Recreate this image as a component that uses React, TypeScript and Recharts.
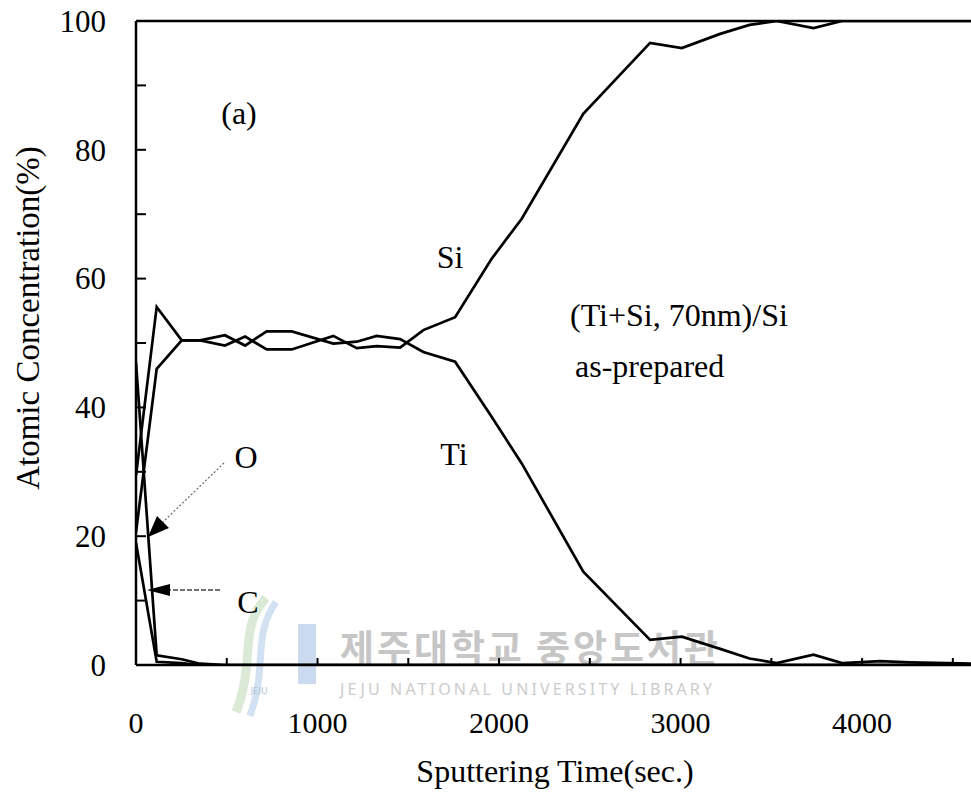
import { LineChart, Line, XAxis, YAxis, ReferenceLine } from "recharts";

// sputtering time (sec.)
const TIMES = [0, 114, 252, 353, 490, 601, 720, 858, 1087, 1216, 1326, 1455, 1583, 1758, 1960, 2125, 2464, 2832, 3007, 3218, 3380, 3530, 3732, 3890, 4099, 4264, 4600];
// atomic concentration (%)
const SI = [29.4, 55.6, 50.4, 50.4, 49.6, 51.0, 49.0, 49.0, 51.1, 49.2, 49.5, 49.3, 52.0, 54.0, 63.1, 69.3, 85.6, 96.6, 95.8, 98.0, 99.4, 100, 98.9, 100, 100, 100, 100];
const TI = [20.6, 46.0, 50.4, 50.4, 51.2, 49.6, 51.8, 51.8, 49.9, 50.2, 51.1, 50.6, 48.6, 47.1, 38.5, 31.3, 14.5, 3.9, 4.4, 2.5, 1.0, 0.3, 1.6, 0.3, 0.6, 0.4, 0.2];
const O = [47, 1.5, 0.9, 0.2, 0, 0, 0, 0, 0, 0, 0, 0, 0, 0, 0, 0, 0, 0, 0, 0, 0, 0, 0, 0, 0, 0, 0];
const C = [19, 0.5, 0.3, 0, 0, 0, 0, 0, 0, 0, 0, 0, 0, 0, 0, 0, 0, 0, 0, 0, 0, 0, 0, 0, 0, 0, 0];

const X_TICKS = [0, 500, 1000, 1500, 2000, 2500, 3000, 3500, 4000, 4500];
const Y_TICKS = [0, 10, 20, 30, 40, 50, 60, 70, 80, 90, 100];

const SERIES = [
  { key: "Si", values: SI },
  { key: "Ti", values: TI },
  { key: "O", values: O },
  { key: "C", values: C },
];

const FONT = "'Liberation Serif', 'Times New Roman', serif";

// ticks point inward, like the original plot
function YTick(p: any) {
  const v = p.payload.value;
  return (
    <g>
      {v > 0 && v < 100 && <line x1={p.x} x2={p.x + 10} y1={p.y} y2={p.y} stroke="#000" strokeWidth={2} />}
      {v % 20 === 0 && (
        <text x={p.x - 30} y={p.y} dy="0.35em" textAnchor="end" fontSize={31} fontFamily={FONT} fill="#000">
          {v}
        </text>
      )}
    </g>
  );
}

function XTick(p: any) {
  const v = p.payload.value;
  return (
    <g>
      {v > 0 && <line x1={p.x} x2={p.x} y1={p.y} y2={p.y - 7} stroke="#000" strokeWidth={2} />}
      {v % 1000 === 0 && (
        <text x={p.x} y={p.y + 68} textAnchor="middle" fontSize={30} fontFamily={FONT} fill="#000">
          {v}
        </text>
      )}
    </g>
  );
}

export default function App() {
  const data = TIMES.map((t, i) => {
    const row: Record<string, number> = { t };
    SERIES.forEach((s) => (row[s.key] = s.values[i]));
    return row;
  });

  return (
    <div style={{ position: "absolute", left: 0, top: 0, width: 971, height: 796, background: "#fff" }}>
      <svg width={971} height={796} style={{ position: "absolute", left: 0, top: 0 }}>
        {/* library watermark (behind the plot) */}
        <g opacity={0.8}>
          <path d="M266,598 C238,628 256,662 236,712" stroke="#d3e6cc" strokeWidth={9} fill="none" />
          <path d="M276,602 C252,636 268,666 250,716" stroke="#c9dcf0" strokeWidth={7} fill="none" />
          <rect x={298} y={624} width={18} height={60} fill="#c0d2ec" />
          <text x={259} y={694} textAnchor="middle" fontSize={9} fill="#9fb0c8" fontFamily="'Noto Sans', sans-serif">JEJU</text>
        </g>
        <text x={340} y={662} fontSize={37} fontWeight={700} fill="#c6c6c6" fontFamily="'Noto Sans CJK KR', sans-serif" textLength={378}>
          제주대학교 중앙도서관
        </text>
        <text x={340} y={695} fontSize={16} fill="#cccccc" fontFamily="'Noto Sans', sans-serif" textLength={372} lengthAdjust="spacing">
          JEJU NATIONAL UNIVERSITY LIBRARY
        </text>
      </svg>

      <div style={{ position: "absolute", left: 0, top: 0 }}>
        <LineChart
          width={971}
          height={796}
          data={data}
          margin={{ top: 21, right: 0, bottom: 130, left: 135 }}
        >
          <XAxis
            dataKey="t"
            type="number"
            domain={[0, 4600]}
            ticks={X_TICKS}
            height={1}
            tickSize={0}
            tickMargin={0}
            tick={<XTick />}
            tickLine={false}
            axisLine={{ stroke: "#000", strokeWidth: 2.5 }}
            allowDataOverflow
          />
          <YAxis
            type="number"
            domain={[0, 100]}
            ticks={Y_TICKS}
            width={1}
            tickSize={0}
            tickMargin={0}
            tick={<YTick />}
            tickLine={false}
            axisLine={{ stroke: "#000", strokeWidth: 2.5 }}
            allowDataOverflow
          />
          <ReferenceLine y={100} stroke="#000" strokeWidth={2.5} />
          {SERIES.map((s) => (
            <Line
              key={s.key}
              dataKey={s.key}
              type="linear"
              stroke="#000"
              strokeWidth={2.7}
              dot={false}
              isAnimationActive={false}
            />
          ))}
        </LineChart>
      </div>

      <svg
        width={971}
        height={796}
        style={{ position: "absolute", left: 0, top: 0, pointerEvents: "none" }}
        fontFamily={FONT}
        fill="#000"
      >
        <text x={239} y={124} textAnchor="middle" fontSize={32}>(a)</text>
        <text x={450} y={268} textAnchor="middle" fontSize={32}>Si</text>
        <text x={454} y={465} textAnchor="middle" fontSize={32}>Ti</text>
        <text x={570} y={326} fontSize={32}>(Ti+Si, 70nm)/Si</text>
        <text x={575} y={377} fontSize={32}>as-prepared</text>
        <text x={246} y={468} textAnchor="middle" fontSize={32}>O</text>
        <text x={248} y={613} textAnchor="middle" fontSize={32}>C</text>

        {/* O arrow: dotted shaft, solid head */}
        <line x1={224} y1={463} x2={162} y2={523} stroke="#666" strokeWidth={1.2} strokeDasharray="2 2" />
        <polygon points="148,537 157,516 169,528" fill="#000" />
        {/* C arrow */}
        <line x1={220} y1={590} x2={168} y2={590} stroke="#444" strokeWidth={1.3} strokeDasharray="5 2" />
        <polygon points="147,590 170,584 170,596" fill="#000" />

        <text x={555} y={782} textAnchor="middle" fontSize={32}>Sputtering Time(sec.)</text>
        <text transform="translate(39,318) rotate(-90)" textAnchor="middle" fontSize={33}>Atomic Concentration(%)</text>
      </svg>
    </div>
  );
}
